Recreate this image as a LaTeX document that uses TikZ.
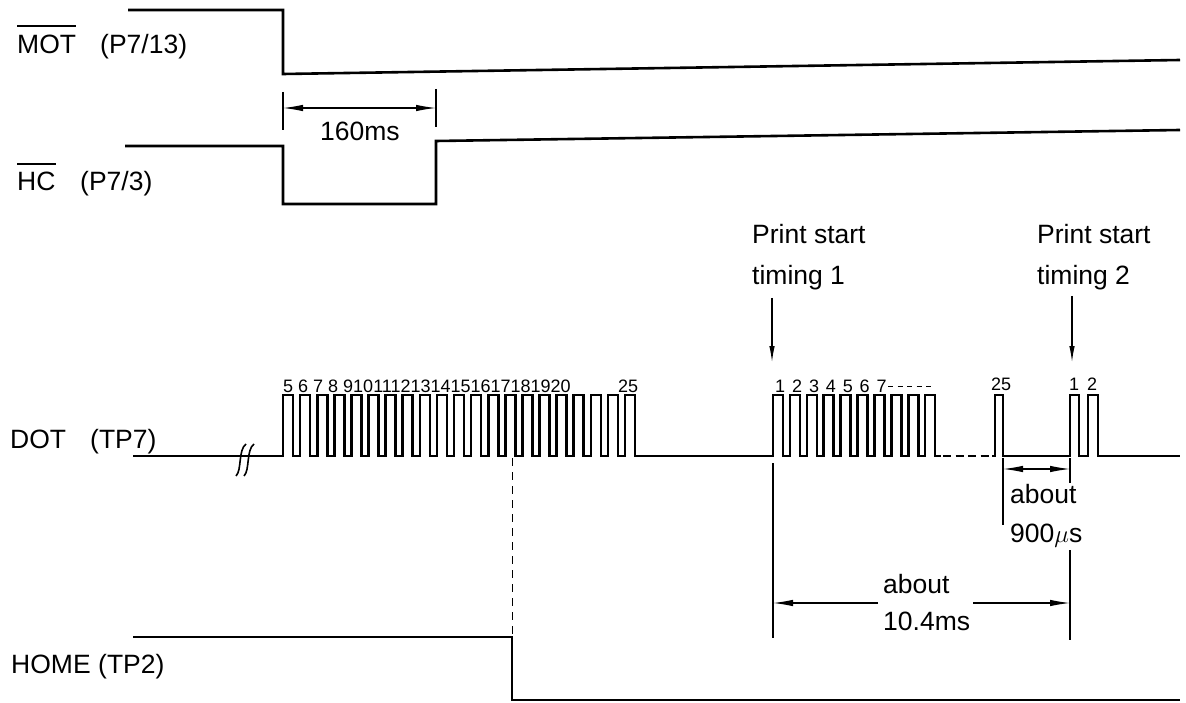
\documentclass[tikz,border=0pt]{standalone}
\usepackage{fontspec}
\setmainfont{Liberation Sans}
\usetikzlibrary{arrows.meta,calc}
\begin{document}
\begin{tikzpicture}[x=1pt,y=-1pt,
  sig/.style={line width=2.6pt,line join=miter},
  thinl/.style={line width=1.1pt},
  lbl/.style={font=\fontsize{26.5}{30}\selectfont,inner sep=0pt,anchor=base west},
  num/.style={font=\fontsize{18}{20}\selectfont,inner sep=0pt,anchor=base west},
  dimarr/.style={line width=1.1pt,{Latex[length=20pt,width=6.5pt]}-{Latex[length=20pt,width=6.5pt]}},
  onearr/.style={line width=1.1pt,-{Latex[length=20pt,width=6.5pt]}},
  tiparr/.style={line width=1.1pt,-{Latex[length=16pt,width=5.5pt]}},
]
\useasboundingbox (0,0) rectangle (1186,703);

% ---- labels ----
\node[lbl] (mot) at (17,54) {MOT};
\node[lbl] (motpin) at (100,54) {(P7/13)};
\draw[line width=1.4pt] ($(mot.base west)+(0,-28)$) -- ($(mot.base east)+(0,-28)$);
\node[lbl] (hc) at (17,191) {HC};
\node[lbl] (hcpin) at (80,191) {(P7/3)};
\draw[line width=1.4pt] ($(hc.base west)+(0,-27)$) -- ($(hc.base east)+(0,-27)$);
\node[lbl] (dot) at (10,448) {DOT};
\node[lbl] (dotpin) at (90,448) {(TP7)};
\node[lbl] (home) at (11,673) {HOME};
\node[lbl] (homepin) at (98,673) {(TP2)};

% ---- MOT ----
\draw[sig] (128,10) -- (283,10) -- (283,74) -- (1180,60);
% ---- HC ----
\draw[sig] (125,146) -- (283,146) -- (283,204) -- (436,204) -- (436,141) -- (1180,130);
% 160ms
\coordinate (ta1) at (283,92); \coordinate (tb1) at (283,130);
\coordinate (ta2) at (436,89); \coordinate (tb2) at (436,127);
\draw[thinl] (ta1) -- (tb1);
\draw[thinl] (ta2) -- (tb2);
\coordinate (d1l) at (283,108); \coordinate (d1r) at (436,108);
\draw[dimarr] (d1l) -- (d1r);
\node[lbl] (t160) at (320,141) {160ms};

% ---- DOT ----
\draw[sig] (133,456)
  \foreach \k in {0,...,20} { -- ({283+17.1*\k},456) -- ({283+17.1*\k},395) -- ({293+17.1*\k},395) -- ({293+17.1*\k},456) }
  -- (773,456)
  \foreach \k in {0,...,9} { -- ({773+16.9*\k},456) -- ({773+16.9*\k},395) -- ({783+16.9*\k},395) -- ({783+16.9*\k},456) }
  -- (941,456);
\draw[sig, dash pattern=on 8pt off 4.5pt] (943,456) -- (992,456);
\draw[sig] (992,456) -- (995,456) -- (995,395) -- (1003,395) -- (1003,456) -- (1070,456) -- (1070,395) -- (1079,395) -- (1079,456)
  -- (1088,456) -- (1088,395) -- (1098,395) -- (1098,456) -- (1180,456);
% break mark
\foreach \x in {242,250} {
  \draw[line width=1.6pt] (\x-6,476) .. controls (\x,470) and (\x-4,450) .. (\x+4,444);
}
% pulse numbers
\node[num] (n1) at (283,392) {5 6 7 8 91011121314151617181920};
\node[num] (n25) at (618,392) {25};
\foreach \i in {1,...,7} { \node[num] (m\i) at ({775+16.9*(\i-1)},392) {\i}; }
\draw[line width=1pt, dash pattern=on 5pt off 4.5pt] (888,386) -- (932,386);
\node[num] (p25) at (991,390) {25};
\node[num] (p1) at (1069,390) {1};
\node[num] (p2) at (1087,390) {2};

% print start timing
\node[lbl] (ps1) at (752,244) {Print start};
\node[lbl] (ps1b) at (752,285) {timing 1};
\node[lbl] (ps2) at (1037,244) {Print start};
\node[lbl] (ps2b) at (1037,285) {timing 2};
\coordinate (a1s) at (772,298); \coordinate (a1e) at (772,362);
\coordinate (a2s) at (1072,296); \coordinate (a2e) at (1072,362);
\draw[tiparr] (a1s) -- (a1e);
\draw[tiparr] (a2s) -- (a2e);

% ---- HOME ----
\draw[sig] (133,637) -- (512,637) -- (512,700) -- (1180,700);
\coordinate (dl1) at (512,458); \coordinate (dl2) at (512,636);
\draw[line width=1pt, dash pattern=on 8pt off 6pt] (dl1) -- (dl2);

% ---- 900us ----
\coordinate (u1a) at (1003,458); \coordinate (u1b) at (1003,525);
\coordinate (u2a) at (1070,458); \coordinate (u2b) at (1070,483);
\draw[thinl] (u1a) -- (u1b);
\draw[thinl] (u2a) -- (u2b);
\coordinate (u3l) at (1003,469); \coordinate (u3r) at (1070,469);
\draw[dimarr] (u3l) -- (u3r);
\node[lbl] (ab1) at (1010,503) {about};
\node[lbl] (us) at (1010,542) {900$\mu$s};

% ---- 10.4ms ----
\coordinate (v1a) at (773,463); \coordinate (v1b) at (773,638);
\coordinate (v2a) at (1070,550); \coordinate (v2b) at (1070,640);
\draw[thinl] (v1a) -- (v1b);
\draw[thinl] (v2a) -- (v2b);
\coordinate (w1) at (878,603); \coordinate (w1e) at (773,603);
\coordinate (w2) at (973,603); \coordinate (w2e) at (1070,603);
\draw[onearr] (w1) -- (w1e);
\draw[onearr] (w2) -- (w2e);
\node[lbl] (ab2) at (883,593) {about};
\node[lbl] (ms) at (883,630) {10.4ms};
\end{tikzpicture}
\end{document}
